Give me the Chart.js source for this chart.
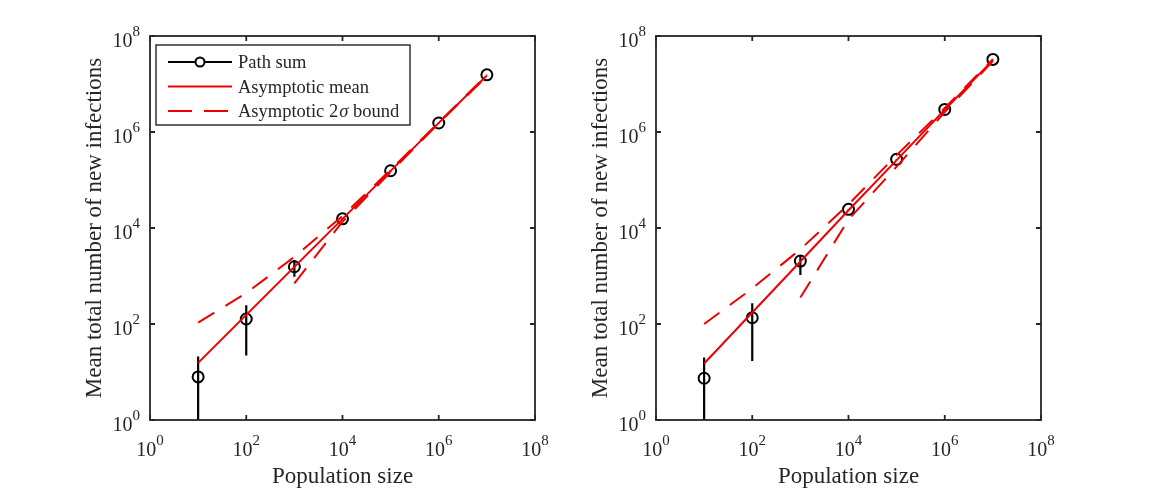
<!DOCTYPE html>
<html>
<head>
<meta charset="utf-8">
<script src="https://cdn.jsdelivr.net/npm/chart.js@4.4.0/dist/chart.umd.min.js"></script>
<style>
  html, body { margin: 0; padding: 0; background: #fff; }
  #wrap { position: relative; width: 1152px; height: 495px; overflow: hidden; }
  canvas { position: absolute; top: 0; }
  #left { left: 0; }
  #right { left: 506px; }
</style>
</head>
<body>
<div id="wrap">
  <canvas id="left" width="570" height="495"></canvas>
  <canvas id="right" width="570" height="495"></canvas>
</div>
<script>
// population sizes (x) and tick exponents shared by both panels
const popSizes = [1e1, 1e2, 1e3, 1e4, 1e5, 1e6, 1e7];
const tickExps = [0, 2, 4, 6, 8];

// left panel
const leftPathSum = [7.9, 127, 1560, 15500, 156000, 1540000, 15500000];
const leftErrLo   = [0.1, 22, 970, 15200, 153000, 1530000, 15450000];
const leftErrHi   = [21, 245, 2150, 15800, 159000, 1550000, 15550000];
const leftMean    = [15.5, 155, 1550, 15500, 155000, 1550000, 15000000];
const leftUpper   = [107, 440, 2500, 17800, 164000, 1580000, 15500000];
const leftLower   = [null, null, 700, 13500, 146000, 1520000, 14600000];

// right panel
const rightPathSum = [7.4, 135, 2050, 24500, 270000, 2950000, 32500000];
const rightErrLo   = [0.1, 17, 1050, 24000, 266000, 2930000, 32400000];
const rightErrHi   = [20, 270, 2700, 25000, 274000, 2970000, 32600000];
const rightMean    = [15, 174, 2000, 23400, 260000, 2900000, 31500000];
const rightUpper   = [100, 550, 3600, 31000, 330000, 3150000, 33000000];
const rightLower   = [null, null, 355, 15000, 190000, 2600000, 30000000];

const ink = '#262626';
const red = '#ee0000';
const serif = '"Liberation Serif", "Times New Roman", serif';
const dash = [19, 13];

function pts(ys) {
    return popSizes.map((x, i) => ({ x: x, y: ys[i] }));
}

// vertical error bars as one line dataset broken by nulls
function errPts(lo, hi) {
    const out = [];
    popSizes.forEach((x, i) => {
        out.push({ x: x, y: lo[i] }, { x: x, y: hi[i] }, { x: x, y: null });
    });
    return out;
}

// box, inward ticks, 10^n labels, titles and the legend (matlab look)
const axesPlugin = {
    id: 'matlabAxes',
    afterDraw(chart, args, opts) {
        const ctx = chart.ctx, a = chart.chartArea;
        const xs = chart.scales.x, ys = chart.scales.y;
        ctx.save();

        ctx.strokeStyle = ink;
        ctx.lineWidth = 1.8;
        ctx.strokeRect(a.left, a.top, a.right - a.left, a.bottom - a.top);

        ctx.beginPath();
        tickExps.forEach(e => {
            const px = xs.getPixelForValue(Math.pow(10, e));
            const py = ys.getPixelForValue(Math.pow(10, e));
            ctx.moveTo(px, a.bottom); ctx.lineTo(px, a.bottom - 5);
            ctx.moveTo(px, a.top); ctx.lineTo(px, a.top + 5);
            ctx.moveTo(a.left, py); ctx.lineTo(a.left + 5, py);
            ctx.moveTo(a.right, py); ctx.lineTo(a.right - 5, py);
        });
        ctx.stroke();

        const baseFont = '20px ' + serif;
        const expFont = '15px ' + serif;
        ctx.fillStyle = ink;
        ctx.textAlign = 'left';
        ctx.textBaseline = 'alphabetic';
        tickExps.forEach(e => {
            const px = xs.getPixelForValue(Math.pow(10, e));
            const py = ys.getPixelForValue(Math.pow(10, e));
            const s = String(e);
            ctx.font = baseFont;
            const wb = ctx.measureText('10').width;
            ctx.font = expFont;
            const we = ctx.measureText(s).width;

            const x0 = px - (wb + we) / 2;
            ctx.font = baseFont; ctx.fillText('10', x0, a.bottom + 36);
            ctx.font = expFont; ctx.fillText(s, x0 + wb, a.bottom + 25);

            const xr = a.left - 10;
            ctx.font = expFont; ctx.fillText(s, xr - we, py);
            ctx.font = baseFont; ctx.fillText('10', xr - we - wb, py + 10.7);
        });

        ctx.font = '23px ' + serif;
        ctx.textAlign = 'center';
        ctx.fillText('Population size', (a.left + a.right) / 2, a.bottom + 63);
        ctx.save();
        ctx.translate(a.left - 49, (a.top + a.bottom) / 2);
        ctx.rotate(-Math.PI / 2);
        ctx.fillText('Mean total number of new infections', 0, 0);
        ctx.restore();

        if (opts.legend) {
            const bx = a.left + 6, by = a.top + 9, bw = 254, bh = 80;
            ctx.fillStyle = '#fff';
            ctx.fillRect(bx, by, bw, bh);
            ctx.lineWidth = 1.4;
            ctx.strokeStyle = ink;
            ctx.strokeRect(bx, by, bw, bh);

            const rows = [by + 17, by + 41.5, by + 66];
            const l0 = bx + 12, l1 = bx + 76, tx = bx + 82;

            ctx.lineWidth = 2;
            ctx.strokeStyle = '#000';
            ctx.beginPath();
            ctx.moveTo(l0, rows[0]); ctx.lineTo(l1, rows[0]);
            ctx.stroke();
            ctx.beginPath();
            ctx.arc((l0 + l1) / 2, rows[0], 4.5, 0, Math.PI * 2);
            ctx.fillStyle = '#fff';
            ctx.fill();
            ctx.stroke();

            ctx.strokeStyle = red;
            ctx.beginPath();
            ctx.moveTo(l0, rows[1]); ctx.lineTo(l1, rows[1]);
            ctx.stroke();
            ctx.setLineDash([24, 12]);
            ctx.beginPath();
            ctx.moveTo(l0, rows[2]); ctx.lineTo(l1, rows[2]);
            ctx.stroke();
            ctx.setLineDash([]);

            ctx.fillStyle = ink;
            ctx.textAlign = 'left';
            ctx.font = '18.5px ' + serif;
            ctx.fillText('Path sum', tx, rows[0] + 6);
            ctx.fillText('Asymptotic mean', tx, rows[1] + 6);
            let cx = tx;
            ctx.fillText('Asymptotic 2', cx, rows[2] + 6);
            cx += ctx.measureText('Asymptotic 2').width + 1;
            ctx.font = 'italic 18.5px ' + serif;
            ctx.fillText('\u03c3', cx, rows[2] + 6);
            cx += ctx.measureText('\u03c3').width;
            ctx.font = '18.5px ' + serif;
            ctx.fillText(' bound', cx, rows[2] + 6);
        }
        ctx.restore();
    }
};

function makeChart(id, sum, lo, hi, mean, upper, lower, withLegend) {
    const ctx = document.getElementById(id).getContext('2d');
    return new Chart(ctx, {
        type: 'line',
        data: {
            datasets: [
                {
                    label: 'Path sum',
                    data: pts(sum),
                    showLine: false,
                    pointStyle: 'circle',
                    pointRadius: 5.5,
                    pointBorderWidth: 2,
                    pointBorderColor: '#000',
                    pointBackgroundColor: 'rgba(0,0,0,0)',
                    order: 3
                },
                {
                    label: 'error',
                    data: errPts(lo, hi),
                    borderColor: '#000',
                    borderWidth: 2.2,
                    pointRadius: 0,
                    clip: 0,
                    order: 4
                },
                {
                    label: 'Asymptotic mean',
                    data: pts(mean),
                    borderColor: red,
                    borderWidth: 2,
                    pointRadius: 0,
                    order: 2
                },
                {
                    label: 'Asymptotic 2\u03c3 bound',
                    data: pts(upper),
                    borderColor: red,
                    borderWidth: 2,
                    borderDash: dash,
                    pointRadius: 0,
                    order: 1
                },
                {
                    label: 'lower bound',
                    data: pts(lower),
                    borderColor: red,
                    borderWidth: 2,
                    borderDash: dash,
                    pointRadius: 0,
                    order: 1
                }
            ]
        },
        options: {
            responsive: false,
            animation: false,
            layout: { padding: { left: 150, top: 36, right: 35, bottom: 75 } },
            elements: { line: { tension: 0 } },
            scales: {
                x: { type: 'logarithmic', min: 1, max: 1e8, display: false },
                y: { type: 'logarithmic', min: 1, max: 1e8, display: false }
            },
            plugins: {
                legend: { display: false },
                tooltip: { enabled: false },
                matlabAxes: { legend: withLegend }
            }
        },
        plugins: [axesPlugin]
    });
}

makeChart('left', leftPathSum, leftErrLo, leftErrHi, leftMean, leftUpper, leftLower, true);
makeChart('right', rightPathSum, rightErrLo, rightErrHi, rightMean, rightUpper, rightLower, false);
</script>
</body>
</html>
